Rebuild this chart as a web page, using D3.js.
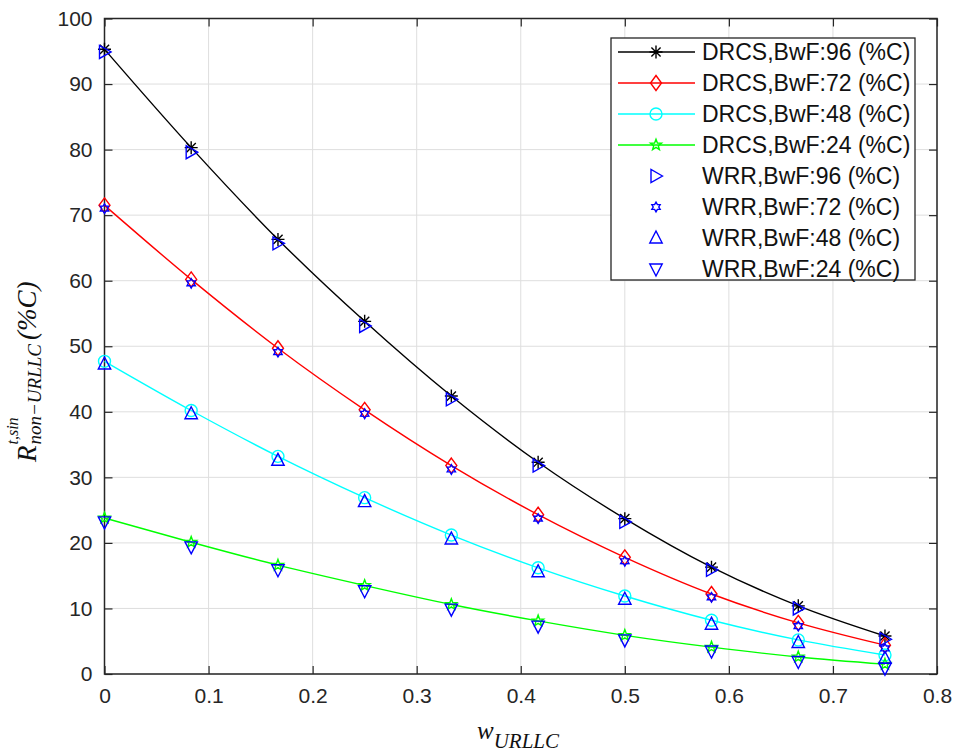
<!DOCTYPE html>
<html><head><meta charset="utf-8">
<script src="https://cdn.jsdelivr.net/npm/d3@7"></script>
<style>body{margin:0;background:#fff}svg{display:block}</style>
</head><body>
<svg id="c" width="958" height="756"></svg>
<script>
const xValues = [0, 0.0833, 0.1667, 0.25, 0.3333, 0.4167, 0.5, 0.5833, 0.6667, 0.75];
const drcs96 = [95.3, 80.3, 66.3, 53.8, 42.4, 32.3, 23.7, 16.3, 10.4, 5.8];
const drcs72 = [71.5, 60.2, 49.7, 40.3, 31.8, 24.3, 17.8, 12.2, 7.8, 4.4];
const drcs48 = [47.7, 40.2, 33.2, 26.9, 21.2, 16.2, 11.9, 8.2, 5.2, 2.9];
const drcs24 = [23.8, 20.1, 16.6, 13.5, 10.6, 8.1, 5.9, 4.1, 2.6, 1.5];
const wrr96 = [94.9, 79.6, 65.7, 53.1, 41.9, 31.8, 23.2, 15.9, 10.0, 5.3];
const wrr72 = [71.0, 59.6, 49.1, 39.7, 31.2, 23.7, 17.2, 11.7, 7.3, 3.9];
const wrr48 = [47.3, 39.7, 32.6, 26.3, 20.6, 15.6, 11.4, 7.6, 4.8, 2.4];
const wrr24 = [23.2, 19.4, 15.9, 12.7, 9.9, 7.3, 5.2, 3.5, 1.9, 0.9];
const xTicks = [0, 0.1, 0.2, 0.3, 0.4, 0.5, 0.6, 0.7, 0.8];
const yTicks = [0, 10, 20, 30, 40, 50, 60, 70, 80, 90, 100];
const seriesNames = ["DRCS,BwF:96 (%C)", "DRCS,BwF:72 (%C)", "DRCS,BwF:48 (%C)", "DRCS,BwF:24 (%C)",
                     "WRR,BwF:96 (%C)", "WRR,BwF:72 (%C)", "WRR,BwF:48 (%C)", "WRR,BwF:24 (%C)"];

const series = [
  {name: seriesNames[0], vals: drcs96, color: "#000000", line: true, marker: "asterisk"},
  {name: seriesNames[1], vals: drcs72, color: "#ff0000", line: true, marker: "diamond"},
  {name: seriesNames[2], vals: drcs48, color: "#00ffff", line: true, marker: "circle"},
  {name: seriesNames[3], vals: drcs24, color: "#00ff00", line: true, marker: "pentagram"},
  {name: seriesNames[4], vals: wrr96, color: "#0000ff", line: false, marker: "triRight"},
  {name: seriesNames[5], vals: wrr72, color: "#0000ff", line: false, marker: "hexagram"},
  {name: seriesNames[6], vals: wrr48, color: "#0000ff", line: false, marker: "triUp"},
  {name: seriesNames[7], vals: wrr24, color: "#0000ff", line: false, marker: "triDown"}
];

const svg = d3.select("#c");
const L = 104.5, R = 937, T = 18.5, B = 674;
const x = d3.scaleLinear().domain([0, 0.8]).range([L, R]);
const y = d3.scaleLinear().domain([0, 100]).range([B, T]);
const axisColor = "#262626";

function star(n, ro, ri) {
  const pts = [];
  for (let i = 0; i < 2 * n; i++) {
    const a = -Math.PI / 2 + i * Math.PI / n;
    const r = i % 2 === 0 ? ro : ri;
    pts.push([r * Math.cos(a), r * Math.sin(a)]);
  }
  return "M" + pts.map(p => p.join(",")).join("L") + "Z";
}
function markerPath(type) {
  switch (type) {
    case "asterisk": { const s = 6.5, d = 4.6;
      return `M${-s},0L${s},0M0,${-s}L0,${s}M${-d},${-d}L${d},${d}M${-d},${d}L${d},${-d}`; }
    case "diamond": return "M0,-7.5L5.5,0L0,7.5L-5.5,0Z";
    case "circle": return "M6,0A6,6 0 1,1 -6,0A6,6 0 1,1 6,0Z";
    case "pentagram": return star(5, 5.8, 2.4);
    case "hexagram": return star(6, 4.8, 2.8);
    case "triRight": return "M6.5,0L-5,-6.5L-5,6.5Z";
    case "triUp": return "M0,-7L6.2,5L-6.2,5Z";
    case "triDown": return "M0,7L6.2,-5L-6.2,-5Z";
  }
}

// grid
const g = svg.append("g");
g.selectAll("line.gx").data(xTicks).join("line")
  .attr("x1", d => x(d)).attr("x2", d => x(d)).attr("y1", T).attr("y2", B)
  .attr("stroke", "#dedede").attr("stroke-width", 1);
g.selectAll("line.gy").data(yTicks).join("line")
  .attr("y1", d => y(d)).attr("y2", d => y(d)).attr("x1", L).attr("x2", R)
  .attr("stroke", "#dedede").attr("stroke-width", 1);

// axes with inward ticks
const tickLen = 8;
const ax = svg.append("g");
ax.append("g").attr("transform", `translate(0,${B})`)
  .call(d3.axisBottom(x).tickValues(xTicks).tickSize(-tickLen).tickPadding(14).tickFormat(d3.format("")));
ax.append("g").attr("transform", `translate(0,${T})`)
  .call(d3.axisTop(x).tickValues(xTicks).tickSize(-tickLen).tickFormat(""));
ax.append("g").attr("transform", `translate(${L},0)`)
  .call(d3.axisLeft(y).tickValues(yTicks).tickSize(-tickLen).tickPadding(12).tickFormat(d3.format("")));
ax.append("g").attr("transform", `translate(${R},0)`)
  .call(d3.axisRight(y).tickValues(yTicks).tickSize(-tickLen).tickFormat(""));
ax.selectAll(".domain").remove();
ax.selectAll(".tick line").attr("stroke", axisColor).attr("stroke-width", 1.2);
ax.selectAll(".tick text").attr("fill", axisColor)
  .attr("font-family", "Liberation Sans, Arial, sans-serif").attr("font-size", 21);
svg.append("rect").attr("x", L).attr("y", T).attr("width", R - L).attr("height", B - T)
  .attr("fill", "none").attr("stroke", axisColor).attr("stroke-width", 1.5);

// series
const lineGen = d3.line().x((d, i) => x(xValues[i])).y(d => y(d)).curve(d3.curveMonotoneX);
const plot = svg.append("g");
series.forEach(s => {
  if (s.line) {
    plot.append("path").attr("d", lineGen(s.vals)).attr("fill", "none")
      .attr("stroke", s.color).attr("stroke-width", 1.4);
  }
});
series.forEach(s => {
  plot.selectAll(null).data(s.vals).join("path")
    .attr("transform", (d, i) => `translate(${x(xValues[i])},${y(d)})`)
    .attr("d", markerPath(s.marker)).attr("fill", "none")
    .attr("stroke", s.color).attr("stroke-width", 1.4);
});

// legend
const lg = svg.append("g");
lg.append("rect").attr("x", 611).attr("y", 38).attr("width", 304).attr("height", 242)
  .attr("fill", "#fff").attr("stroke", axisColor).attr("stroke-width", 1.3);
series.forEach((s, i) => {
  const cy = 52 + i * 31;
  if (s.line) lg.append("line").attr("x1", 618).attr("x2", 695).attr("y1", cy).attr("y2", cy)
    .attr("stroke", s.color).attr("stroke-width", 1.4);
  lg.append("path").attr("transform", `translate(656,${cy})`).attr("d", markerPath(s.marker))
    .attr("fill", "none").attr("stroke", s.color).attr("stroke-width", 1.4);
  lg.append("text").attr("x", 702).attr("y", cy + 8).text(s.name)
    .attr("font-family", "Liberation Sans, Arial, sans-serif").attr("font-size", 23).attr("fill", "#111");
});

// x label
const serif = "Liberation Serif, DejaVu Serif, serif";
const xlab = svg.append("text").attr("x", 477).attr("y", 739).attr("font-family", serif)
  .attr("font-style", "italic").attr("fill", "#111");
xlab.append("tspan").attr("font-size", 25).text("w");
xlab.append("tspan").attr("font-size", 21).attr("dy", 9).text("URLLC");

// y label (rotated)
const yg = svg.append("g").attr("transform", "rotate(-90)");
const ybase = 36;
const x0 = -462;
const rT = yg.append("text").attr("x", x0).attr("y", ybase).attr("font-family", serif)
  .attr("font-style", "italic").attr("font-size", 27).attr("fill", "#111").text("R");
const rW = rT.node().getComputedTextLength();
const sx = x0 + rW + 1;
yg.append("text").attr("x", sx).attr("y", ybase - 18).attr("font-family", serif)
  .attr("font-style", "italic").attr("font-size", 16).attr("fill", "#111").text("t,sin");
const sub = yg.append("text").attr("x", sx).attr("y", ybase + 5).attr("font-family", serif)
  .attr("font-style", "italic").attr("font-size", 19).attr("fill", "#111").text("non\u2212URLLC");
const subW = sub.node().getComputedTextLength();
yg.append("text").attr("x", sx + subW + 4).attr("y", ybase).attr("font-family", serif)
  .attr("font-style", "italic").attr("font-size", 27).attr("fill", "#111").text("(%C)");
</script>
</body></html>
